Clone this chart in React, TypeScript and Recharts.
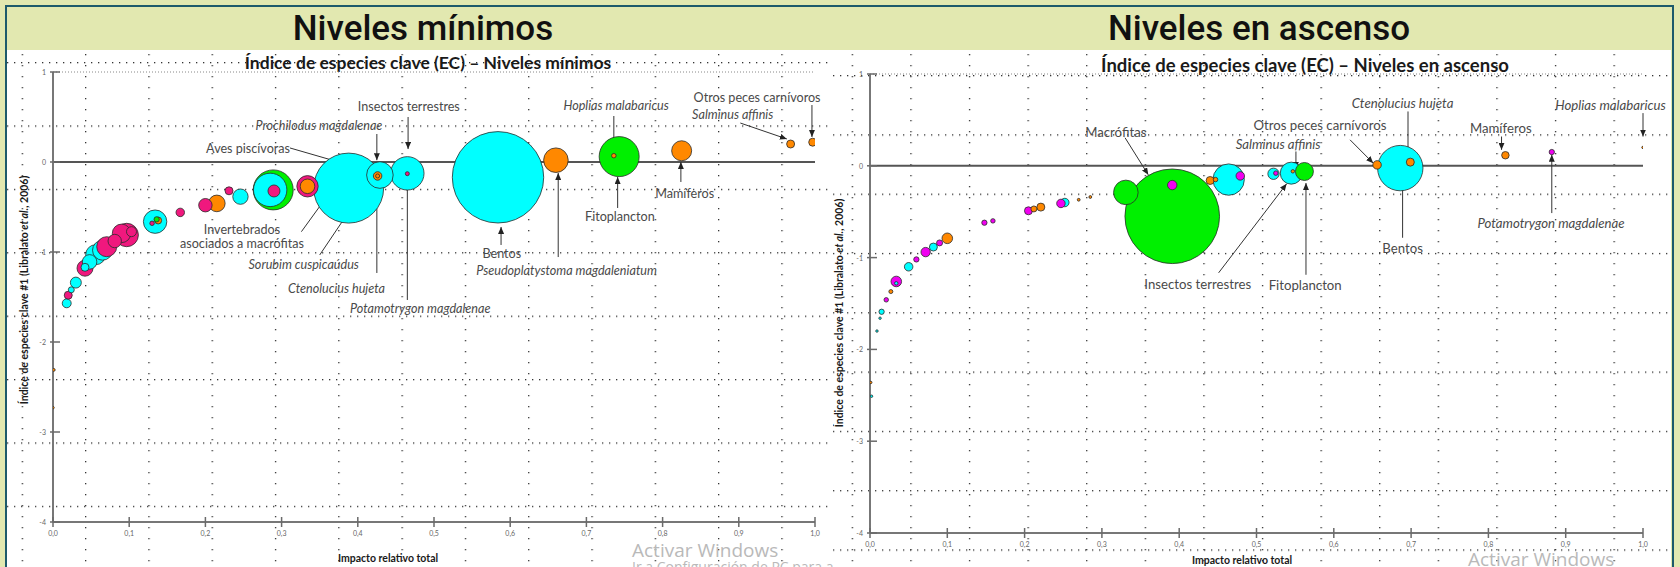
import React from 'react'
import {
  ScatterChart, Scatter, XAxis, YAxis, ZAxis, ReferenceLine, ReferenceDot,
} from 'recharts'

// [impacto relativo total, índice EC, biomasa relativa]
type Punto = [number, number, number]
// [texto, cursiva, x texto, y texto, flecha [x1, y1, x2, y2]]
type Nota = [string, boolean, number, number, number[]]

const xTicks = [0, 0.1, 0.2, 0.3, 0.4, 0.5, 0.6, 0.7, 0.8, 0.9, 1]
const yTicks = [-4, -3, -2, -1, 0, 1]

// --- Niveles mínimos ---
const minCyan: Punto[] = [
  [0.018, -1.57, 20], [0.024, -1.42, 9], [0.03, -1.34, 30], [0.042, -1.17, 16],
  [0.048, -1.11, 53], [0.056, -1.03, 100], [0.065, -0.98, 100], [0.134, -0.663, 137],
  [0.246, -0.385, 59], [0.285, -0.31, 279], [0.388, -0.29, 1225], [0.429, -0.145, 177],
  [0.465, -0.126, 279], [0.584, -0.17, 2088],
]
const minGreen: Punto[] = [
  [0.136, -0.637, 7], [0.289, -0.31, 400], [0.743, 0.06, 400],
]
const minPink: Punto[] = [
  [0.02, -1.48, 16], [0.042, -1.18, 64], [0.0705, -0.941, 100], [0.081, -0.878, 45],
  [0.09, -0.793, 86], [0.0967, -0.811, 137], [0.103, -0.774, 25], [0.13, -0.681, 5],
  [0.167, -0.56, 18], [0.2, -0.48, 45], [0.231, -0.32, 16], [0.29, -0.322, 36],
  [0.334, -0.27, 114], [0.465, -0.13, 4],
]
const minOrange: Punto[] = [
  [0.001, -2.31, 2], [0.0, -2.73, 1.5], [0.138, -0.65, 12], [0.215, -0.46, 69],
  [0.334, -0.27, 53], [0.426, -0.155, 18], [0.426, -0.155, 4], [0.66, 0.02, 151],
  [0.736, 0.07, 5], [0.825, 0.125, 100], [0.968, 0.2, 16], [0.997, 0.22, 16],
]
const minNotas: Nota[] = [
  ['Insectos terrestres', false, 0.467, 0.622, [0.466, 0.5, 0.466, 0.144]],
  ['Prochilodus magdalenae', true, 0.349, 0.411, [0.425, 0.311, 0.425, 0.02]],
  ['Aves piscívoras', false, 0.256, 0.152, [0.311, 0.156, 0.42, -0.111]],
  ['Invertebrados\nasociados a macrófitas', false, 0.248, -0.822, [0.326, -0.774, 0.364, -0.33]],
  ['Sorubim cuspicaúdus', true, 0.329, -1.133, [0.35, -1.033, 0.419, -0.167]],
  ['Ctenolucius hujeta', true, 0.372, -1.396, [0.425, -1.233, 0.425, -0.233]],
  ['Potamotrygon magdalenae', true, 0.482, -1.626, [0.465, -1.533, 0.465, -0.167]],
  ['Bentos', false, 0.589, -1.007, [0.588, -0.922, 0.588, -0.722]],
  ['Pseudoplatystoma magdaleniatum', true, 0.674, -1.2, [0.663, -1.056, 0.663, -0.122]],
  ['Hoplias malabaricus', true, 0.739, 0.633, [0.736, 0.511, 0.736, 0.156]],
  ['Fitoplancton', false, 0.744, -0.6, [0.741, -0.511, 0.741, -0.167]],
  ['Mamíferos', false, 0.829, -0.341, [0.824, -0.222, 0.824, 0.0]],
  ['Otros peces carnívoros', false, 0.924, 0.719, [0.996, 0.633, 0.996, 0.278]],
  ['Salminus affinis', true, 0.892, 0.53, [0.902, 0.433, 0.963, 0.256]],
]

// --- Niveles en ascenso ---
const ascCyan: Punto[] = [
  [0.013, -1.66, 1.5], [0.015, -1.59, 7], [0.034, -1.28, 3], [0.05, -1.1, 18],
  [0.082, -0.885, 16], [0.252, -0.4, 18], [0.464, -0.15, 246], [0.522, -0.087, 32],
  [0.545, -0.08, 121], [0.686, -0.025, 515], [0.002, -2.51, 1.5], [0.009, -1.8, 1.5],
]
const ascGreen: Punto[] = [
  [0.331, -0.29, 151], [0.391, -0.55, 2237], [0.562, -0.062, 81],
]
const ascMagenta: Punto[] = [
  [0.021, -1.46, 5], [0.034, -1.26, 28], [0.06, -1.02, 7], [0.072, -0.94, 22],
  [0.09, -0.84, 9], [0.148, -0.62, 7], [0.159, -0.6, 5], [0.205, -0.49, 16],
  [0.247, -0.41, 18], [0.391, -0.21, 22], [0.479, -0.11, 18], [0.525, -0.08, 5],
  [0.882, 0.15, 7],
]
const ascOrange: Punto[] = [
  [0.001, -2.36, 1.5], [0.027, -1.37, 4], [0.1, -0.79, 28], [0.212, -0.47, 9],
  [0.221, -0.45, 16], [0.27, -0.37, 2], [0.285, -0.34, 2], [0.44, -0.16, 16],
  [0.447, -0.15, 5], [0.547, -0.06, 3], [0.656, 0.01, 18], [0.699, 0.04, 16],
  [0.822, 0.115, 14], [1.0, 0.2, 1.5],
]
const ascNotas: Nota[] = [
  ['Macrófitas', false, 0.318, 0.363, [0.33, 0.305, 0.36, -0.098]],
  ['Insectos terrestres', false, 0.424, -1.289, [0.451, -1.166, 0.539, -0.196]],
  ['Otros peces carnívoros', false, 0.582, 0.447, [0.621, 0.283, 0.651, 0.029]],
  ['Salminus affinis', true, 0.528, 0.233, [0.551, 0.156, 0.551, -0.033]],
  ['Fitoplancton', false, 0.563, -1.296, [0.564, -1.187, 0.564, -0.188]],
  ['Ctenolucius hujeta', true, 0.689, 0.683, [0.696, 0.592, 0.696, 0.12]],
  ['Bentos', false, 0.689, -0.89, [0.689, -0.784, 0.689, -0.098]],
  ['Mamíferos', false, 0.816, 0.411, [0.817, 0.319, 0.817, 0.174]],
  ['Potamotrygon magdalenae', true, 0.881, -0.624, [0.882, -0.515, 0.882, 0.12]],
  ['Hoplias malabaricus', true, 0.958, 0.664, [1.0, 0.574, 1.0, 0.319]],
]

const FONT = 'Lato, "Open Sans", sans-serif'
const Z_MAX = 2500

function buildData(groups: [Punto[], string][]) {
  return groups
    .flatMap(([pts, color]) => pts.map(([x, y, z]) => ({ x, y, z, color })))
    .sort((a, b) => b.z - a.z)
}

const Bubble = (p: any) => {
  const r = p.width ? p.width / 2 : Math.sqrt((p.size || 0) / Math.PI)
  return <circle cx={p.cx} cy={p.cy} r={r} fill={p.payload.color} stroke="#2b2b2b" strokeWidth={0.8} />
}

const XTick = ({ x, y, payload }: any) => (
  <g>
    <line x1={x} x2={x} y1={y - 5} y2={y + 5} stroke="#6a6a6a" strokeWidth={1.5} />
    <text x={x} y={y + 14} textAnchor="middle" fontSize={7} fill="#666" fontFamily={FONT}>
      {payload.value.toFixed(1).replace('.', ',')}
    </text>
  </g>
)

const YTick = ({ x, y, payload }: any) => (
  <g>
    <line x1={x - 3} x2={x + 7} y1={y} y2={y} stroke="#6a6a6a" strokeWidth={1.5} />
    <text x={x - 7} y={y} textAnchor="end" dominantBaseline="central" fontSize={7} fill="#666" fontFamily={FONT}>
      {payload.value}
    </text>
  </g>
)

function Panel(props: {
  left: number; width: number; data: any[]; notas: Nota[]; margin: any; yWidth: number; xHeight: number
  noteSize: number; grid: { rowY: number; rowGap: number; colX: number; colGap: number; id: string }
  title: string; titleX: number; titleY: number; titleSize: number
  yLabelX: number; yLabelY: number; yLabelSize: number; xLabelX: number; xLabelY: number
  watermark: React.ReactNode
}) {
  const H = 517
  const g = props.grid
  return (
    <div style={{ position: 'absolute', left: props.left, top: 50, width: props.width, height: H, overflow: 'hidden', background: '#fff' }}>
      <svg width={props.width} height={H} style={{ position: 'absolute', left: 0, top: 0 }}>
        <defs>
          <pattern id={g.id + 'r'} patternUnits="userSpaceOnUse" x={0} y={g.rowY} width={7} height={g.rowGap}>
            <rect width={1.3} height={1.3} fill="#333" />
          </pattern>
          <pattern id={g.id + 'c'} patternUnits="userSpaceOnUse" x={g.colX} y={4} width={g.colGap} height={11}>
            <rect width={1.3} height={1.3} fill="#333" />
          </pattern>
        </defs>
        <rect width={props.width} height={H} fill={`url(#${g.id}r)`} />
        <rect width={props.width} height={H} fill={`url(#${g.id}c)`} />
        <text x={props.titleX} y={props.titleY} textAnchor="middle" dominantBaseline="central"
          fontFamily={FONT} fontWeight={700} fontSize={props.titleSize} fill="#1a1a1a">{props.title}</text>
        <text transform={`translate(${props.yLabelX},${props.yLabelY}) rotate(-90)`} textAnchor="middle"
          dominantBaseline="central" fontFamily={FONT} fontWeight={700} fontSize={props.yLabelSize} fill="#1a1a1a">
          Índice de especies clave #1 (Libralato <tspan fontStyle="italic">et al.</tspan>, 2006)
        </text>
        <text x={props.xLabelX} y={props.xLabelY} textAnchor="middle" dominantBaseline="central"
          fontFamily={FONT} fontWeight={700} fontSize={10.5} fill="#1a1a1a">Impacto relativo total</text>
        {props.watermark}
      </svg>
      <div style={{ position: 'absolute', left: 0, top: 0 }}>
        <ScatterChart width={props.width} height={H} margin={props.margin}>
          <XAxis type="number" dataKey="x" domain={[0, 1]} ticks={xTicks} allowDataOverflow
            height={props.xHeight} tickSize={0} tickMargin={0} tickLine={false}
            axisLine={{ stroke: '#777', strokeWidth: 2 }} tick={<XTick />} />
          <YAxis type="number" dataKey="y" domain={[-4, 1]} ticks={yTicks} allowDataOverflow
            width={props.yWidth} tickSize={0} tickMargin={0} tickLine={false}
            axisLine={{ stroke: '#777', strokeWidth: 2 }} tick={<YTick />} />
          <ZAxis type="number" dataKey="z" domain={[0, Z_MAX]} range={[0, Z_MAX * Math.PI]} />
          <ReferenceLine y={1} stroke="#888" strokeDasharray="1 2" />
          <ReferenceLine y={0} stroke="#555" strokeWidth={2} />
          <Scatter data={props.data} shape={Bubble} isAnimationActive={false} />
          {props.notas.map((n, i) => (
            <ReferenceLine key={'a' + i} ifOverflow="visible"
              segment={[{ x: n[4][0], y: n[4][1] }, { x: n[4][2], y: n[4][3] }]}
              shape={(p: any) => (
                <line x1={p.x1} y1={p.y1} x2={p.x2} y2={p.y2} stroke="#333" strokeWidth={1} markerEnd="url(#flecha)" />
              )} />
          ))}
          {props.notas.map((n, i) => (
            <ReferenceDot key={'t' + i} x={n[2]} y={n[3]} r={0} ifOverflow="visible"
              shape={(p: any) => {
                const lines = n[0].split('\n')
                return (
                  <text x={p.cx} y={p.cy} textAnchor="middle" dominantBaseline="central" fontFamily={FONT}
                    fontSize={props.noteSize} fill="#4a4a4a" fontStyle={n[1] ? 'italic' : 'normal'}>
                    {lines.map((l, k) => (
                      <tspan key={k} x={p.cx} dy={k === 0 ? -(lines.length - 1) * 7 : 14}>{l}</tspan>
                    ))}
                  </text>
                )
              }} />
          ))}
        </ScatterChart>
      </div>
    </div>
  )
}

export default function App() {
  const minData = buildData([[minCyan, '#00ffff'], [minGreen, '#00f000'], [minPink, '#f0187e'], [minOrange, '#ff8800']])
  const ascData = buildData([[ascCyan, '#00ffff'], [ascGreen, '#00f000'], [ascMagenta, '#f000f0'], [ascOrange, '#ff8800']])
  const wm = { fontFamily: '"Open Sans", sans-serif', fill: '#b9b9b9' }
  const head = { position: 'absolute' as const, top: 9, textAlign: 'center' as const, fontFamily: 'Roboto, sans-serif', fontWeight: 500, fontSize: 35, lineHeight: '40px', color: '#111' }
  return (
    <div style={{ position: 'absolute', left: 0, top: 0, width: 1680, height: 567, overflow: 'hidden', background: '#e2e8b0' }}>
      <svg width={0} height={0} style={{ position: 'absolute' }}>
        <defs>
          <marker id="flecha" markerUnits="userSpaceOnUse" markerWidth={7} markerHeight={6} refX={7} refY={3} orient="auto">
            <path d="M0,0 L7,3 L0,6 z" fill="#222" />
          </marker>
        </defs>
      </svg>
      <div style={{ position: 'absolute', left: 5, top: 5, width: 1669, height: 700, border: '2px solid #1d5a6b', boxSizing: 'border-box' }} />
      <div style={{ ...head, left: 0, width: 846 }}>Niveles mínimos</div>
      <div style={{ ...head, left: 846, width: 826 }}>Niveles en ascenso</div>
      <Panel left={7} width={826} data={minData} notas={minNotas}
        margin={{ top: 22, right: 18, bottom: 15, left: 11 }} yWidth={35} xHeight={30} noteSize={12.6}
        grid={{ rowY: 12, rowGap: 63.4, colX: 14.7, colGap: 63.3, id: 'gl' }}
        title="Índice de especies clave (EC) – Niveles mínimos" titleX={421} titleY={12} titleSize={17.5}
        yLabelX={17} yLabelY={240} yLabelSize={10.5} xLabelX={381} xLabelY={508}
        watermark={<g>
          <text x={625} y={507} fontSize={19} {...wm}>Activar Windows</text>
          <text x={625} y={522} fontSize={14} {...wm}>Ir a Configuración de PC para activar Windows.</text>
        </g>} />
      <Panel left={833} width={838} data={ascData} notas={ascNotas}
        margin={{ top: 24, right: 28, bottom: 9, left: 12 }} yWidth={25} xHeight={25} noteSize={13.2}
        grid={{ rowY: 25, rowGap: 59.3, colX: 18.7, colGap: 58.6, id: 'gr' }}
        title="Índice de especies clave (EC) – Niveles en ascenso" titleX={472} titleY={15} titleSize={18.5}
        yLabelX={6} yLabelY={263} yLabelSize={10.5} xLabelX={409} xLabelY={510}
        watermark={<text x={635} y={516} fontSize={19} {...wm}>Activar Windows</text>} />
    </div>
  )
}
